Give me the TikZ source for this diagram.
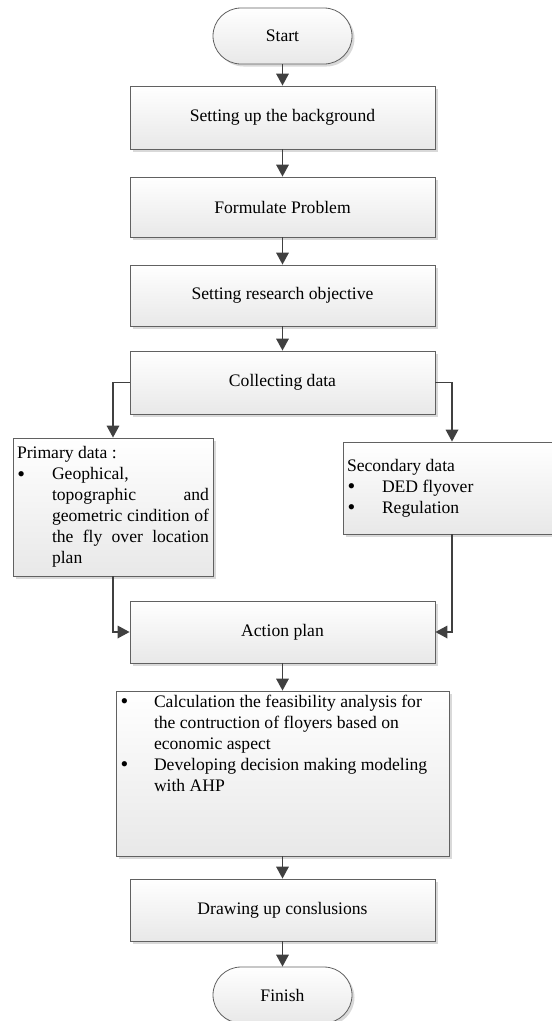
\documentclass[tikz,border=0pt]{standalone}
\usepackage{fontspec}
\setmainfont{Liberation Serif}
\usetikzlibrary{shadows,arrows.meta}
\hbadness=10000
\newcommand{\blt}[1]{\makebox[#1][l]{\hspace{0.5pt}\raisebox{-1.3pt}{\scalebox{1.25}{\textbullet}}}}
\begin{document}
\begin{tikzpicture}[x=1pt,y=-1pt,
  box/.style={draw=black!62, line width=0.8pt, top color=white, bottom color=black!9,
    drop shadow={shadow xshift=2.5pt, shadow yshift=-2.5pt, fill=black!25, opacity=0.6},
    minimum width=305pt, inner sep=0pt, font=\fontsize{17.6}{21}\selectfont},
  term/.style={box, rounded corners=28pt, minimum width=139pt, minimum height=56pt},
  arr/.style={draw=black!75, line width=1.8pt, -{Triangle[length=12pt,width=12.5pt]}},
]
\useasboundingbox (0,0) rectangle (552,1021);
\node[term] (start) at (282.5,36) {Start};
\node[box, minimum height=63pt] (bg) at (282.5,117.5) {Setting up the background};
\node[box, minimum height=60pt] (prob) at (282.5,207) {Formulate Problem};
\node[box, minimum height=61pt] (obj) at (282.5,295.5) {Setting research objective};
\node[box, minimum height=63pt] (coll) at (282.5,382.5) {Collecting data};
\node[box, minimum width=200pt, minimum height=138pt] (prim) at (113,507) {\parbox{192pt}{%
  \noindent Primary data :\par
  \noindent\hangindent=35pt\hangafter=1\blt{35pt}Geophical,\hfil\break
  topographic and\linebreak geometric cindition of\linebreak the fly over location\linebreak plan\par}};
\node[box, minimum width=218pt, minimum height=92pt] (sec) at (452,488) {\parbox{210pt}{\raggedright
  \noindent Secondary data\par
  \noindent\blt{35pt}DED flyover\par
  \noindent\blt{35pt}Regulation\par}};
\node[box, minimum height=62pt] (act) at (282.5,632) {Action plan};
\node[box, minimum width=333pt, minimum height=165pt] (calc) at (282.5,773.5) {\parbox[c][157pt][t]{325pt}{\raggedright
  \noindent\hangindent=34pt\hangafter=1\blt{34pt}Calculation the feasibility analysis for\hfil\break
  the contruction of floyers based on\hfil\break economic aspect\par
  \noindent\hangindent=34pt\hangafter=1\blt{34pt}Developing decision making modeling\hfil\break
  with AHP\par}};
\node[box, minimum height=62pt] (conc) at (282.5,910) {Drawing up conslusions};
\node[term] (fin) at (282.5,995) {Finish};
\draw[arr] (start.south) -- (bg.north);
\draw[arr] (bg.south) -- (prob.north);
\draw[arr] (prob.south) -- (obj.north);
\draw[arr] (obj.south) -- (coll.north);
\draw[arr] (coll.west) -| (prim.north);
\draw[arr] (coll.east) -| (sec.north);
\draw[arr] (prim.south) |- (act.west);
\draw[arr] (sec.south) |- (act.east);
\draw[arr] (act.south) -- (calc.north);
\draw[arr] (calc.south) -- (conc.north);
\draw[arr] (conc.south) -- (fin.north);
\end{tikzpicture}
\end{document}
